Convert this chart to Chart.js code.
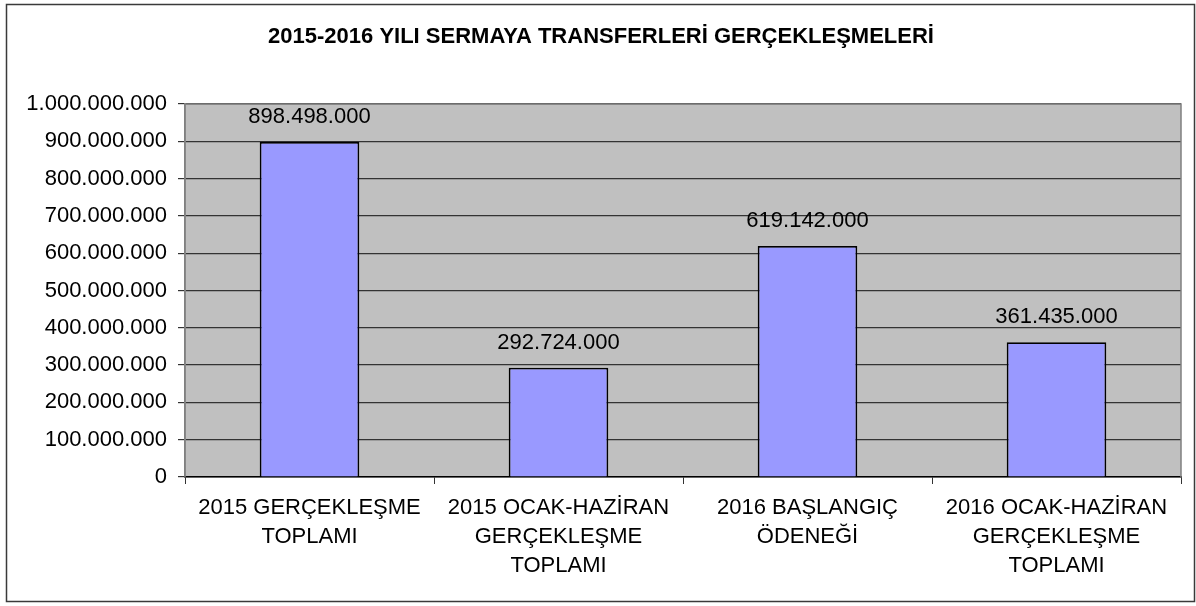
<!DOCTYPE html>
<html>
<head>
<meta charset="utf-8">
<script src="https://cdn.jsdelivr.net/npm/chart.js@4.4.0/dist/chart.umd.min.js"></script>
<style>
  html, body { margin: 0; padding: 0; background: #ffffff; }
  #wrap { position: relative; width: 1196px; height: 606px; }
</style>
</head>
<body>
<div id="wrap"><canvas id="c" width="1196" height="606"></canvas></div>
<script>
const chartTitle = "2015-2016 YILI SERMAYA TRANSFERLERİ GERÇEKLEŞMELERİ";
const categories = [
  ["2015 GERÇEKLEŞME", "TOPLAMI"],
  ["2015 OCAK-HAZİRAN", "GERÇEKLEŞME", "TOPLAMI"],
  ["2016 BAŞLANGIÇ", "ÖDENEĞİ"],
  ["2016 OCAK-HAZİRAN", "GERÇEKLEŞME", "TOPLAMI"]
];
const values = [898498000, 292724000, 619142000, 361435000];
const yMin = 0;
const yMax = 1000000000;
const yStep = 100000000;

const FONT = "'Liberation Sans', Arial, Helvetica, sans-serif";

function fmt(v) {
  return String(Math.round(v)).replace(/\B(?=(\d{3})+(?!\d))/g, ".");
}

const frame = {
  id: 'frame',
  beforeDraw(chart) {
    const ctx = chart.ctx, a = chart.chartArea;
    ctx.save();
    ctx.fillStyle = '#ffffff';
    ctx.fillRect(0, 0, chart.width, chart.height);
    ctx.strokeStyle = '#3a3a3a';
    ctx.lineWidth = 1.5;
    ctx.strokeRect(6.5, 4.5, 1188, 597);
    ctx.fillStyle = '#c0c0c0';
    ctx.fillRect(a.left, a.top, a.right - a.left, a.bottom - a.top);
    ctx.restore();
  },
  afterDatasetsDraw(chart) {
    const ctx = chart.ctx, a = chart.chartArea;
    ctx.save();
    ctx.strokeStyle = '#808080';
    ctx.lineWidth = 1.5;
    ctx.beginPath();
    ctx.moveTo(a.left, a.bottom);
    ctx.lineTo(a.left, a.top);
    ctx.lineTo(a.right, a.top);
    ctx.lineTo(a.right, a.bottom);
    ctx.stroke();
    // value labels
    const meta = chart.getDatasetMeta(0);
    ctx.fillStyle = '#000';
    ctx.font = '22px ' + FONT;
    ctx.textAlign = 'center';
    ctx.textBaseline = 'middle';
    meta.data.forEach((bar, i) => {
      ctx.fillText(fmt(chart.data.datasets[0].data[i]), bar.x, bar.y - 25);
    });
    ctx.restore();
  }
};

new Chart(document.getElementById('c'), {
  type: 'bar',
  data: {
    labels: categories,
    datasets: [{
      data: values,
      backgroundColor: '#9999ff',
      borderColor: '#000000',
      borderWidth: 1.8,
      barPercentage: 0.4,
      categoryPercentage: 1.0
    }]
  },
  options: {
    responsive: false,
    animation: false,
    layout: { padding: { left: 21, right: 15, top: 0, bottom: 0 } },
    plugins: {
      legend: { display: false },
      tooltip: { enabled: false },
      title: {
        display: true,
        text: chartTitle,
        color: '#000',
        font: { family: FONT, size: 22, weight: 'bold', lineHeight: 1.2 },
        padding: { top: 23.4, bottom: 54.2 }
      }
    },
    scales: {
      y: {
        min: yMin,
        max: yMax,
        afterFit(scale) { scale.width = 164; },
        ticks: {
          stepSize: yStep,
          color: '#000',
          font: { family: FONT, size: 22 },
          padding: 11,
          callback: (v) => fmt(v)
        },
        grid: {
          color: '#333333',
          lineWidth: 1.2,
          tickLength: 7,
          drawTicks: true
        },
        border: { display: true, color: '#808080', width: 1.5 }
      },
      x: {
        afterFit(scale) { scale.height = 129; },
        ticks: {
          color: '#000',
          font: { family: FONT, size: 22, lineHeight: 1.3 },
          padding: 10,
          maxRotation: 0,
          autoSkip: false
        },
        grid: {
          offset: true,
          drawOnChartArea: false,
          color: '#333333',
          tickLength: 7
        },
        border: { display: true, color: '#000000', width: 1.5 }
      }
    }
  },
  plugins: [frame]
});
</script>
</body>
</html>
